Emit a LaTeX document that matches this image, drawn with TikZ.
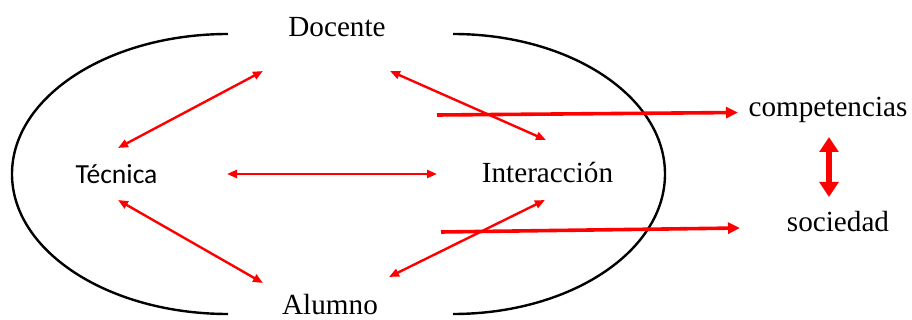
\documentclass[tikz,border=0pt]{standalone}
\usepackage{fontspec}
\setmainfont{Liberation Serif}
\newfontfamily\calibrifont{Carlito}
\usetikzlibrary{arrows.meta, positioning}

\begin{document}
\begin{tikzpicture}[
        x=0.5pt, y=-0.5pt,
        txt/.style={inner sep=0pt, font=\fontsize{14.6pt}{17pt}\selectfont},
        link/.style={red, line width=1.2pt, {Triangle[length=5pt,width=4pt]}-{Triangle[length=5pt,width=4pt]}},
        outlink/.style={red, line width=1.8pt, -{Triangle[length=6pt,width=5.5pt]}},
        bothlink/.style={red, line width=2.6pt, {Triangle[length=7.5pt,width=9.3pt]}-{Triangle[length=7.5pt,width=9.3pt]}},
    ]
    \useasboundingbox (0,0) rectangle (912,320);

    % the two halves of the loop
    \draw[line width=1.2pt] (228,34) arc[start angle=90, end angle=270, x radius=108pt, y radius=70pt];
    \draw[line width=1.2pt] (453,34) arc[start angle=90, end angle=-90, x radius=106pt, y radius=70pt];

    % labels
    \node[txt, anchor=base] (docente) at (337,37) {Docente};
    \node[txt, anchor=base, font=\calibrifont\fontsize{13.8pt}{17pt}\selectfont] (tecnica) at (116.5,184) {Técnica};
    \node[txt, anchor=base] (interaccion) at (547.5,183) {Interacción};
    \node[txt, anchor=base] (alumno) at (330,315) {Alumno};
    \node[txt, anchor=base] (competencias) at (828,117) {competencias};
    \node[txt, anchor=base] (sociedad) at (838,232) {sociedad};

    % arrow ends
    \coordinate (docente-l) at (263,71);
    \coordinate (docente-r) at (390,71);
    \coordinate (tecnica-t) at (118,148);
    \coordinate (tecnica-r) at (227,174);
    \coordinate (tecnica-b) at (118,200);
    \coordinate (interaccion-t) at (546,140);
    \coordinate (interaccion-l) at (437,174);
    \coordinate (interaccion-b) at (545,200);
    \coordinate (alumno-l) at (263,283);
    \coordinate (alumno-r) at (389,277);
    \coordinate (comp-from) at (437,115);
    \coordinate (comp-to) at (738,112.5);
    \coordinate (soc-from) at (441,232);
    \coordinate (soc-to) at (740,228);
    \coordinate (comp-s) at (829,137);
    \coordinate (soc-n) at (829,197);

    \draw[link] (tecnica-t) -- (docente-l);
    \draw[link] (docente-r) -- (interaccion-t);
    \draw[link] (tecnica-r) -- (interaccion-l);
    \draw[link] (tecnica-b) -- (alumno-l);
    \draw[link] (alumno-r) -- (interaccion-b);

    \draw[outlink] (comp-from) -- (comp-to);
    \draw[outlink] (soc-from) -- (soc-to);
    \draw[bothlink] (comp-s) -- (soc-n);
\end{tikzpicture}
\end{document}
